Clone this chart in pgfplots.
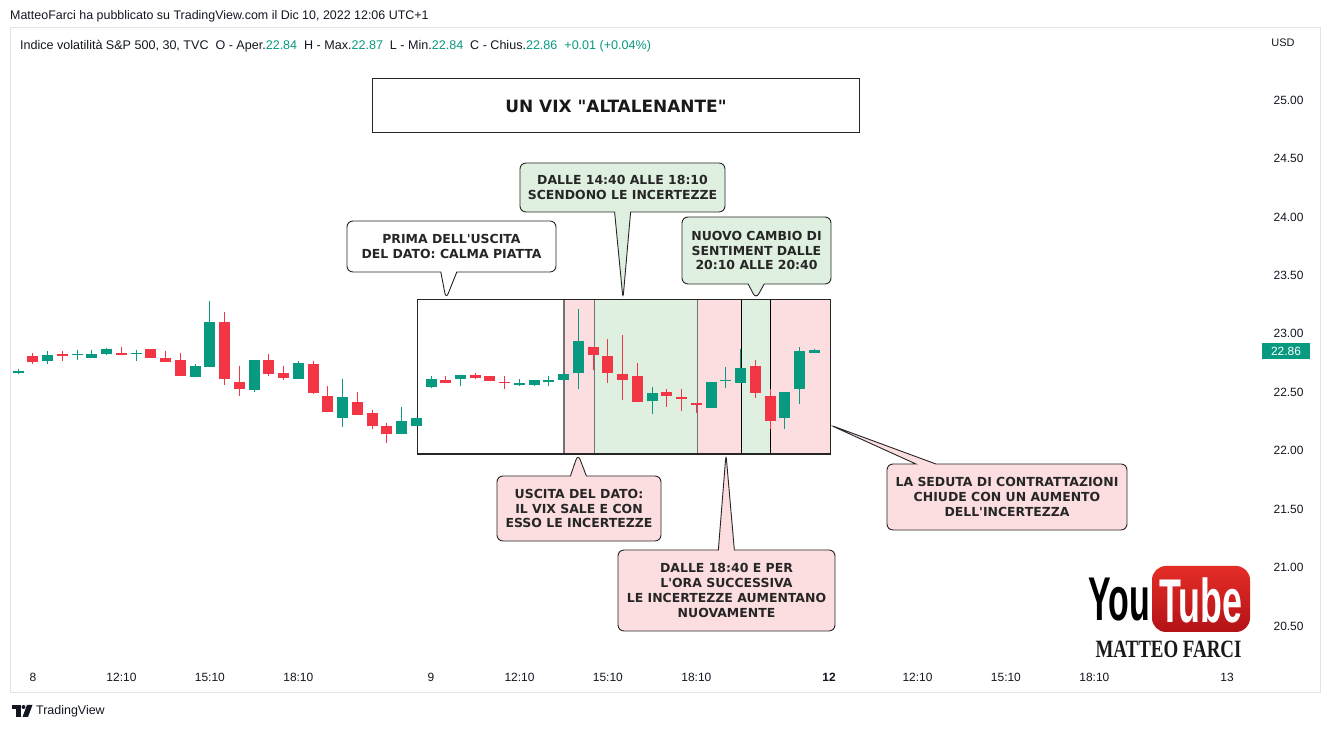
\documentclass[border=0pt]{standalone}
\usepackage{pgfplots}
\pgfplotsset{compat=1.18}
\usepackage{pgfplotstable}
\usepackage{graphicx}
\usepackage{fontspec}
\setmainfont{Liberation Sans}
\newfontfamily\calfont[Ligatures=TeXOff]{DejaVu Sans}
\newfontfamily\seriffont{Liberation Serif}
\usetikzlibrary{shapes.callouts}

\definecolor{tvgreen}{RGB}{8,153,129}
\definecolor{tvred}{RGB}{242,54,69}
\definecolor{zpink}{RGB}{252,222,224}
\definecolor{zgreen}{RGB}{224,240,224}
\definecolor{tvtext}{RGB}{19,23,34}
\definecolor{tvframe}{RGB}{224,227,235}
\definecolor{ytredA}{RGB}{229,45,39}
\definecolor{ytredB}{RGB}{179,18,23}

% x = candle index (30 min), o h l c
\pgfplotstableread{
x  o      h      l      c
-1 22.662 22.696 22.659 22.682
1  22.764 22.853 22.742 22.819
3  22.822 22.858 22.779 22.827
4  22.793 22.861 22.793 22.827
5  22.830 22.879 22.822 22.870
7  22.833 22.861 22.770 22.839
11 22.633 22.742 22.633 22.725
12 22.713 23.281 22.713 23.104
15 22.522 22.776 22.502 22.776
18 22.610 22.770 22.610 22.747
21 22.283 22.616 22.203 22.457
25 22.143 22.377 22.143 22.251
26 22.211 22.283 22.211 22.283
27 22.545 22.639 22.539 22.610
29 22.613 22.645 22.553 22.645
33 22.559 22.610 22.553 22.579
34 22.559 22.605 22.553 22.602
35 22.585 22.636 22.553 22.602
36 22.605 22.659 22.599 22.659
37 22.662 23.209 22.525 22.938
42 22.422 22.548 22.314 22.494
46 22.365 22.588 22.365 22.588
47 22.597 22.713 22.539 22.607
48 22.582 22.870 22.582 22.710
51 22.280 22.505 22.183 22.505
52 22.525 22.887 22.402 22.850
53 22.840 22.870 22.840 22.860
}\upcandles

\pgfplotstableread{
x  o      h      l      c
0  22.807 22.836 22.742 22.756
2  22.827 22.856 22.770 22.813
6  22.839 22.887 22.822 22.822
8  22.870 22.870 22.793 22.793
9  22.790 22.853 22.762 22.762
10 22.776 22.836 22.642 22.642
13 23.098 23.187 22.565 22.610
14 22.588 22.725 22.471 22.531
16 22.776 22.827 22.642 22.653
17 22.668 22.725 22.605 22.625
19 22.742 22.770 22.482 22.491
20 22.471 22.551 22.334 22.334
22 22.419 22.502 22.303 22.303
23 22.320 22.348 22.183 22.208
24 22.208 22.237 22.063 22.143
28 22.605 22.639 22.582 22.582
30 22.645 22.662 22.610 22.625
31 22.636 22.636 22.596 22.596
32 22.588 22.642 22.531 22.576
38 22.887 22.887 22.690 22.816
39 22.807 22.953 22.582 22.665
40 22.659 22.990 22.431 22.605
41 22.639 22.747 22.417 22.417
43 22.499 22.525 22.377 22.468
44 22.459 22.528 22.343 22.446
45 22.411 22.411 22.320 22.394
49 22.725 22.776 22.454 22.496
50 22.471 22.525 22.183 22.257
}\downcandles

\begin{document}
\begin{tikzpicture}
\useasboundingbox[fill=white] (0,0) rectangle (1332bp,730bp);
\begin{axis}[
  at={(10bp,38bp)}, anchor=south west,
  scale only axis, width=1310bp, height=664bp,
  xmin=-1.560, xmax=87.31, ymin=19.936, ymax=25.616,
  axis line style={draw=tvframe, line width=1bp},
  major tick length=0pt,
  xtick={0,6,12,18,27,33,39,45,54,60,66,72,81},
  xticklabels={8,12:10,15:10,18:10,9,12:10,15:10,18:10,\textbf{12},12:10,15:10,18:10,13},
  xticklabel style={anchor=center, yshift=15bp, font=\fontsize{12}{14}\selectfont, text=tvtext},
  ytick={20.5,21,21.5,22,22.5,23,23.5,24,24.5,25},
  yticklabels={20.50,21.00,21.50,22.00,22.50,23.00,23.50,24.00,24.50,25.00},
  yticklabel pos=right,
  yticklabel style={anchor=east, xshift=-13bp, font=\fontsize{12}{14}\selectfont, text=tvtext},
  clip=false,
]
% shaded phases
\fill[zpink]  (axis cs:36.02,21.972) rectangle (axis cs:38.06,23.295);
\fill[zgreen] (axis cs:38.06,21.972) rectangle (axis cs:45.07,23.295);
\fill[zpink]  (axis cs:45.07,21.972) rectangle (axis cs:48.08,23.295);
\fill[zgreen] (axis cs:48.08,21.972) rectangle (axis cs:50.04,23.295);
\fill[zpink]  (axis cs:50.04,21.972) rectangle (axis cs:54.07,23.295);
\draw[black!55, line width=1.1bp] (axis cs:36.02,21.972) rectangle (axis cs:54.07,23.295);
\draw[black!55, line width=1.1bp] (axis cs:38.06,21.972) -- (axis cs:38.06,23.295);
\draw[black!55, line width=1.1bp] (axis cs:45.07,21.972) -- (axis cs:45.07,23.295);
\draw[black, line width=1bp] (axis cs:48.08,21.972) -- (axis cs:48.08,23.295);
\draw[black, line width=1bp] (axis cs:50.04,21.972) -- (axis cs:50.04,23.295);
\draw[black!85, line width=1.1bp] (axis cs:26.07,21.972) rectangle (axis cs:54.07,23.295);
% wicks
\addplot[forget plot, draw=none, mark=none,
  error bars/.cd, y dir=plus, y explicit, error mark=none,
  error bar style={draw=tvgreen, line width=1bp}]
  table[x=x, y=l, y error plus expr=\thisrow{h}-\thisrow{l}] {\upcandles};
\addplot[forget plot, draw=none, mark=none,
  error bars/.cd, y dir=plus, y explicit, error mark=none,
  error bar style={draw=tvred, line width=1bp}]
  table[x=x, y=l, y error plus expr=\thisrow{h}-\thisrow{l}] {\downcandles};
% bodies
\addplot[forget plot, draw=none, mark=none,
  error bars/.cd, y dir=plus, y explicit, error mark=none,
  error bar style={draw=tvgreen, line width=11bp}]
  table[x=x, y=o, y error plus expr=\thisrow{c}-\thisrow{o}] {\upcandles};
\addplot[forget plot, draw=none, mark=none,
  error bars/.cd, y dir=plus, y explicit, error mark=none,
  error bar style={draw=tvred, line width=11bp}]
  table[x=x, y=c, y error plus expr=\thisrow{o}-\thisrow{c}] {\downcandles};
\end{axis}

\begin{scope}[x=1bp, y=-1bp, shift={(0bp,730bp)}]
% header
\node[anchor=west, inner sep=0, font=\fontsize{12.5}{14}\selectfont, text=tvtext] at (10,16)
  {MatteoFarci ha pubblicato su TradingView.com il Dic 10, 2022 12:06 UTC+1};
\node[anchor=west, inner sep=0, font=\fontsize{12.6}{14}\selectfont, text=tvtext] at (20,46)
  {Indice volatilità S\&P 500, 30, TVC\ \ O - Aper.\textcolor{tvgreen}{22.84}\ \ H - Max.\textcolor{tvgreen}{22.87}\ \ L - Min.\textcolor{tvgreen}{22.84}\ \ C - Chius.\textcolor{tvgreen}{22.86}\ \ \textcolor{tvgreen}{+0.01 (+0.04\%)}};
\node[inner sep=0, font=\fontsize{11}{13}\selectfont, text=tvtext] at (1283,43) {USD};
\node[fill=tvgreen, text=white, inner sep=0, minimum width=48bp, minimum height=16bp,
  font=\fontsize{12}{14}\selectfont] at (1286,351) {22.86};
% title
\node[draw=black!85, line width=1bp, fill=white, minimum width=486bp, minimum height=54bp, inner sep=0,
  font=\calfont\bfseries\fontsize{17}{20}\selectfont, text=black!90] at (616,106) {UN VIX "ALTALENANTE"};
% callouts
\coordinate (p1) at (446,299);
\coordinate (p2) at (623,299);
\coordinate (p3) at (756,299);
\coordinate (p4) at (578,454);
\coordinate (p5) at (726,454);
\coordinate (p6) at (830,425);
\tikzset{co/.style={rectangle callout, draw=black!85, line width=0.9bp, rounded corners=6bp,
  inner sep=0pt, align=center, font=\calfont\bfseries\fontsize{12.5}{15}\selectfont, text=black!85,
  callout pointer width=16bp}}
\node[co, fill=white, minimum width=209bp, minimum height=51bp, callout absolute pointer={(p1)}]
  at (451.5,246.5) {PRIMA DELL'USCITA\\DEL DATO: CALMA PIATTA};
\node[co, fill=zgreen, minimum width=205bp, minimum height=49bp, callout absolute pointer={(p2)}]
  at (622.5,187.5) {DALLE 14:40 ALLE 18:10\\SCENDONO LE INCERTEZZE};
\node[co, fill=zgreen, minimum width=149bp, minimum height=67bp, callout absolute pointer={(p3)}]
  at (756.5,250.5) {NUOVO CAMBIO DI\\SENTIMENT DALLE\\20:10 ALLE 20:40};
\node[co, fill=zpink, minimum width=164bp, minimum height=65bp, callout absolute pointer={(p4)}]
  at (579,508.5) {USCITA DEL DATO:\\IL VIX SALE E CON\\ESSO LE INCERTEZZE};
\node[co, fill=zpink, minimum width=217bp, minimum height=81bp, callout absolute pointer={(p5)}]
  at (726.5,590.5) {DALLE 18:40 E PER\\L'ORA SUCCESSIVA\\LE INCERTEZZE AUMENTANO\\NUOVAMENTE};
\node[co, fill=zpink, minimum width=240bp, minimum height=66bp, callout absolute pointer={(p6)},
  callout pointer width=20bp]
  at (1007,497) {LA SEDUTA DI CONTRATTAZIONI\\CHIUDE CON UN AUMENTO\\DELL'INCERTEZZA};
% YouTube logo
\node[inner sep=0, font=\bfseries\fontsize{62}{62}\selectfont, text=black] at (1119.5,600)
  {\scalebox{0.55}[1]{You}};
\shade[top color=ytredA, bottom color=ytredB, rounded corners=14bp] (1152,566) rectangle (1250,632);
\node[inner sep=0, font=\bfseries\fontsize{62}{62}\selectfont, text=white] at (1201,600)
  {\scalebox{0.58}[1]{Tube}};
\node[inner sep=0, font=\seriffont\bfseries\fontsize{25}{25}\selectfont, text=black!90] at (1168.5,649)
  {\scalebox{0.76}[1]{MATTEO FARCI}};
% TradingView logo
\fill[tvtext] (12,705) rectangle (21,709);
\fill[tvtext] (16,705) rectangle (21,717);
\fill[tvtext] (23.5,707) circle (2);
\fill[tvtext] (27,705) -- (32.5,705) -- (28,717) -- (22.5,717) -- cycle;
\node[anchor=west, inner sep=0, font=\fontsize{12.5}{14}\selectfont, text=tvtext] at (36,711) {TradingView};
\end{scope}
\end{tikzpicture}
\end{document}
